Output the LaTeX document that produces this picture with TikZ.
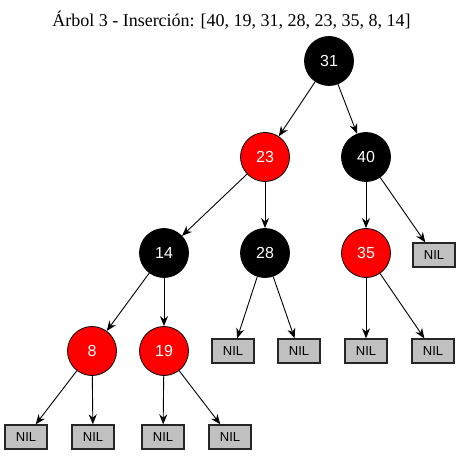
\documentclass[tikz,border=0pt]{standalone}
\usepackage{fontspec}
\setmainfont{Liberation Serif}
\newfontfamily\nodefont{Liberation Sans}
\usetikzlibrary{arrows.meta}
\definecolor{nilgray}{HTML}{C0C0C0}
\definecolor{rbred}{HTML}{FF0000}
\tikzset{
  rbnode/.style={circle, draw=black, line width=0.8bp, minimum size=49bp, inner sep=0pt, text=white, font=\nodefont\fontsize{16bp}{18bp}\selectfont},
  blacknode/.style={rbnode, fill=black},
  rednode/.style={rbnode, fill=rbred},
  nilnode/.style={rectangle, draw=black!85, line width=1.3bp, fill=nilgray, minimum width=42bp, minimum height=24bp, inner sep=0pt, font=\nodefont\fontsize{13bp}{15bp}\selectfont},
  edge/.style={-{Stealth[length=10bp,width=8bp]}, line width=0.9bp, black}
}
\begin{document}
\begin{tikzpicture}[x=1bp,y=-1bp]
\useasboundingbox (0,0) rectangle (463,456);
\node (title) at (231.5,20) {\fontsize{18bp}{20bp}\selectfont Árbol 3 - Inserción: [40, 19, 31, 28, 23, 35, 8, 14]};
\node[blacknode] (n31) at (329,61) {31};
\node[rednode] (n23) at (265,157) {23};
\node[blacknode] (n40) at (366,157) {40};
\node[blacknode] (n14) at (164,253) {14};
\node[blacknode] (n28) at (265,253) {28};
\node[rednode] (n35) at (366,253) {35};
\node[nilnode] (nil40) at (434,255) {NIL};
\node[rednode] (n8) at (92,351) {8};
\node[rednode] (n19) at (164,351) {19};
\node[nilnode] (nil28a) at (233,351) {NIL};
\node[nilnode] (nil28b) at (299,351) {NIL};
\node[nilnode] (nil35a) at (366,351) {NIL};
\node[nilnode] (nil35b) at (433,351) {NIL};
\node[nilnode] (nil8a) at (26,437) {NIL};
\node[nilnode] (nil8b) at (93,437) {NIL};
\node[nilnode] (nil19a) at (163,437) {NIL};
\node[nilnode] (nil19b) at (230,437) {NIL};
\draw[edge] (n31) -- (n23);
\draw[edge] (n31) -- (n40);
\draw[edge] (n23) -- (n14);
\draw[edge] (n23) -- (n28);
\draw[edge] (n40) -- (n35);
\draw[edge] (n40) -- (nil40);
\draw[edge] (n14) -- (n8);
\draw[edge] (n14) -- (n19);
\draw[edge] (n28) -- (nil28a);
\draw[edge] (n28) -- (nil28b);
\draw[edge] (n35) -- (nil35a);
\draw[edge] (n35) -- (nil35b);
\draw[edge] (n8) -- (nil8a);
\draw[edge] (n8) -- (nil8b);
\draw[edge] (n19) -- (nil19a);
\draw[edge] (n19) -- (nil19b);
\end{tikzpicture}
\end{document}
